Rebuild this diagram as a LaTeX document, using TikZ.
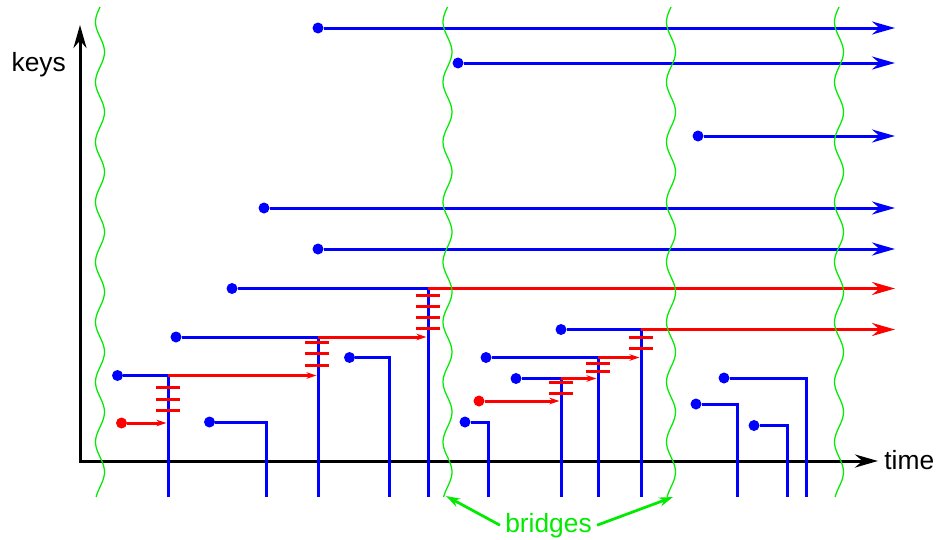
\documentclass[tikz,border=0pt]{standalone}
\usepackage{fontspec}
\setmainfont{Liberation Sans}
\usetikzlibrary{arrows.meta}
\definecolor{bridgegreen}{RGB}{0,235,0}

\begin{document}
\begin{tikzpicture}
    [
        x=0.2mm, y=-0.2mm,
        keydot/.style={circle, fill=blue, inner sep=0pt, minimum size=2.2mm},
        newdot/.style={keydot, fill=red},
        axislabel/.style={font=\fontsize{15}{18}\selectfont, inner sep=0pt},
        axisline/.style={{Stealth[length=4.6mm, width=2.6mm]}-{Stealth[length=4.6mm, width=2.6mm]}, line width=0.6mm},
        keyrun/.style={blue, line width=0.6mm},
        keylive/.style={keyrun, -{Stealth[length=4.6mm, width=2.6mm]}},
        mergearrow/.style={red, line width=0.6mm, -{Stealth[length=2mm, width=1.3mm]}},
        carryarrow/.style={red, line width=0.6mm, -{Stealth[length=4.6mm, width=2.6mm]}},
        hatchmark/.style={red, line width=0.6mm},
        bridgeline/.style={bridgegreen, line width=0.25mm},
        bridgearrow/.style={bridgegreen, line width=0.55mm, -{Stealth[length=2.8mm, width=1.8mm]}}
    ]
    \useasboundingbox (0,0) rectangle (937,539);

    % Nodes
    \node[axislabel, anchor=base] (keys) at (38.7,71.7) {keys};
    \node[axislabel, anchor=base west] (time) at (884,469) {time};
    \node[axislabel, text=bridgegreen, inner sep=1mm, anchor=base] (bridges) at (548.5,532) {bridges};

    \coordinate (origin) at (80,461);
    \coordinate (ytip) at (80,25);
    \coordinate (xtip) at (878,461);

    \node[keydot] (k1) at (318,28) {};
    \node[keydot] (k2) at (458,63) {};
    \node[keydot] (k3) at (698,136) {};
    \node[keydot] (k4) at (264,208) {};
    \node[keydot] (k5) at (318,249) {};
    \node[keydot] (k6) at (232,288.5) {};
    \node[keydot] (k7) at (176,337) {};
    \node[keydot] (k8) at (117.5,375.5) {};
    \node[newdot] (n1) at (121.5,423) {};
    \node[keydot] (k9) at (209.5,422) {};
    \node[keydot] (k10) at (349.5,357.5) {};
    \node[keydot] (k11) at (561,329.5) {};
    \node[keydot] (k12) at (486,357.5) {};
    \node[keydot] (k13) at (516,378.5) {};
    \node[newdot] (n2) at (479,401) {};
    \node[keydot] (k14) at (465,422) {};
    \node[keydot] (k15) at (724,378) {};
    \node[keydot] (k16) at (696,404) {};
    \node[keydot] (k17) at (754,425.5) {};

    \coordinate (e1) at (895,28);
    \coordinate (e2) at (895,63);
    \coordinate (e3) at (895,136);
    \coordinate (e4) at (895,208);
    \coordinate (e5) at (895,249);
    \coordinate (e6) at (895,288.5);
    \coordinate (e11) at (895,329.5);

    \coordinate (c6) at (428,288.5);
    \coordinate (c7) at (318,337);
    \coordinate (c8) at (168,375.5);
    \coordinate (c9) at (266,422);
    \coordinate (c10) at (389,357.5);
    \coordinate (c11) at (641,329.5);
    \coordinate (c12) at (598,357.5);
    \coordinate (c13) at (561,378.5);
    \coordinate (c14) at (488,422);
    \coordinate (c15) at (806,378);
    \coordinate (c16) at (737,404);
    \coordinate (c17) at (787,425.5);

    \coordinate (b6) at (428,497);
    \coordinate (b7) at (318,497);
    \coordinate (b8) at (168,497);
    \coordinate (b9) at (266,497);
    \coordinate (b10) at (389,497);
    \coordinate (b11) at (641,497);
    \coordinate (b12) at (598,497);
    \coordinate (b13) at (561,497);
    \coordinate (b14) at (488,497);
    \coordinate (b15) at (806,497);
    \coordinate (b16) at (737,497);
    \coordinate (b17) at (787,497);

    \coordinate (m1) at (166.5,423);
    \coordinate (m7) at (426.5,337);
    \coordinate (m8) at (316.5,375.5);
    \coordinate (m2) at (559.5,401);
    \coordinate (m12) at (639.5,357.5);
    \coordinate (m13) at (596.5,378.5);

    \coordinate (t1) at (446,496);
    \coordinate (t2) at (673,497);

    % Arrows
    \draw[axisline] (ytip) -- (origin) -- (xtip);

    \draw[keylive] (k1) -- (e1);
    \draw[keylive] (k2) -- (e2);
    \draw[keylive] (k3) -- (e3);
    \draw[keylive] (k4) -- (e4);
    \draw[keylive] (k5) -- (e5);

    \draw[keyrun] (k6) -- (c6) -- (b6);
    \draw[keyrun] (k7) -- (c7) -- (b7);
    \draw[keyrun] (k8) -- (c8) -- (b8);
    \draw[keyrun] (k9) -- (c9) -- (b9);
    \draw[keyrun] (k10) -- (c10) -- (b10);
    \draw[keyrun] (k11) -- (c11) -- (b11);
    \draw[keyrun] (k12) -- (c12) -- (b12);
    \draw[keyrun] (k13) -- (c13) -- (b13);
    \draw[keyrun] (k14) -- (c14) -- (b14);
    \draw[keyrun] (k15) -- (c15) -- (b15);
    \draw[keyrun] (k16) -- (c16) -- (b16);
    \draw[keyrun] (k17) -- (c17) -- (b17);

    \draw[carryarrow] (c6) -- (e6);
    \draw[carryarrow] (c11) -- (e11);
    \draw[mergearrow] (c7) -- (m7);
    \draw[mergearrow] (c8) -- (m8);
    \draw[mergearrow] (n1) -- (m1);
    \draw[mergearrow] (c12) -- (m12);
    \draw[mergearrow] (c13) -- (m13);
    \draw[mergearrow] (n2) -- (m2);

    % Hatches
    \draw[hatchmark] (416,295) -- (440,295);
    \draw[hatchmark] (416,306) -- (440,306);
    \draw[hatchmark] (416,317) -- (440,317);
    \draw[hatchmark] (416,328) -- (440,328);
    \draw[hatchmark] (305,342) -- (329,342);
    \draw[hatchmark] (305,353) -- (329,353);
    \draw[hatchmark] (305,365) -- (329,365);
    \draw[hatchmark] (156,387) -- (180,387);
    \draw[hatchmark] (156,399) -- (180,399);
    \draw[hatchmark] (156,410) -- (180,410);
    \draw[hatchmark] (629,337) -- (653,337);
    \draw[hatchmark] (629,348) -- (653,348);
    \draw[hatchmark] (586,363) -- (610,363);
    \draw[hatchmark] (586,371) -- (610,371);
    \draw[hatchmark] (549,382) -- (573,382);
    \draw[hatchmark] (549,393) -- (573,393);

    % Bridges
    \draw[bridgeline] plot[domain=7:497, samples=150] ({100-4.5*sin(6*(\x-7))}, \x);
    \draw[bridgeline] plot[domain=7:497, samples=150] ({447.5-4.5*sin(6*(\x-7))}, \x);
    \draw[bridgeline] plot[domain=7:497, samples=150] ({671-4.5*sin(6*(\x-7))}, \x);
    \draw[bridgeline] plot[domain=7:497, samples=150] ({839-4.5*sin(6*(\x-7))}, \x);

    \draw[bridgearrow] (bridges.west) -- (t1);
    \draw[bridgearrow] (bridges.east) -- (t2);
\end{tikzpicture}
\end{document}
